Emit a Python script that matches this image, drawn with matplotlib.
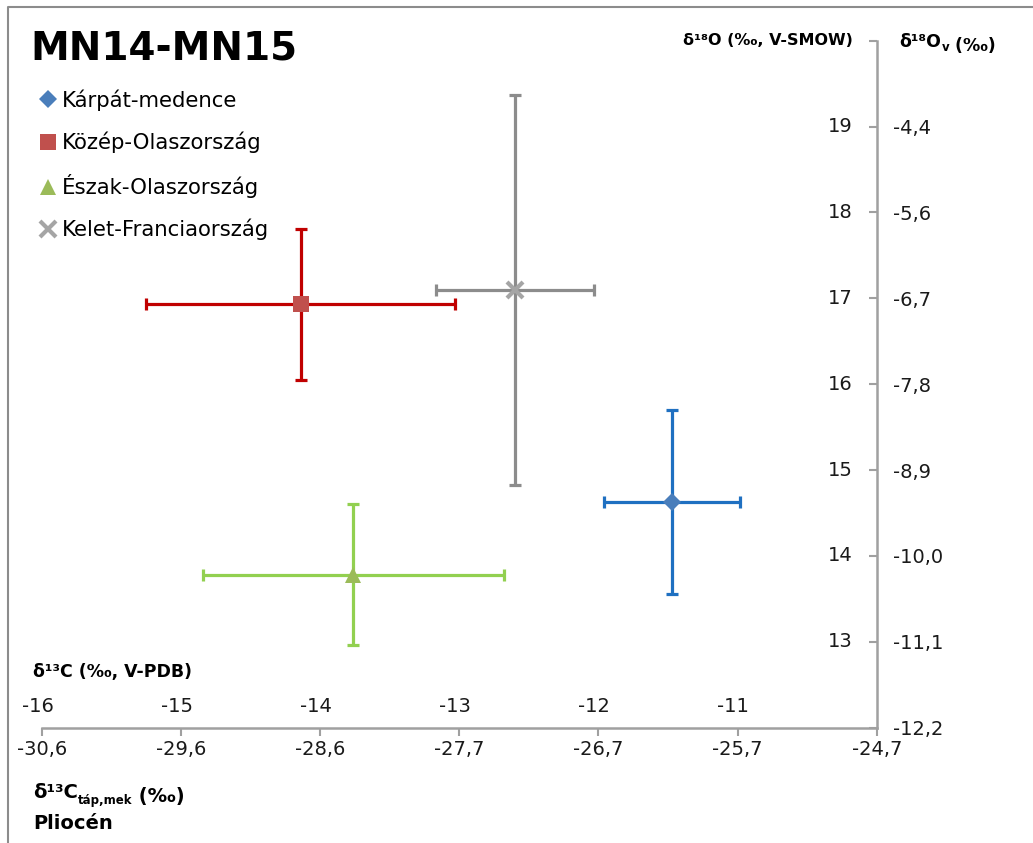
import matplotlib
matplotlib.use("Agg")
import matplotlib.pyplot as plt
from matplotlib.lines import Line2D
from matplotlib.transforms import blended_transform_factory, offset_copy

plt.rcParams["font.family"] = ["DejaVu Sans"]

# series: (label, x, xerr, y, yerr)
regions = ["Kárpát-medence", "Közép-Olaszország", "Észak-Olaszország", "Kelet-Franciaország"]
d13c = [-11.47, -14.14, -13.76, -12.60]
d13c_err = [0.49, 1.11, 1.08, 0.57]
d18o = [14.63, 16.93, 13.78, 17.10]
d18o_err = [1.07, 0.88, 0.82, 2.27]

x_ticks = [-16, -15, -14, -13, -12, -11, -10]
x_top_labels = ["-16", "-15", "-14", "-13", "-12", "-11"]
x_diet_labels = ["-30,6", "-29,6", "-28,6", "-27,7", "-26,7", "-25,7", "-24,7"]
y_ticks = [12, 13, 14, 15, 16, 17, 18, 19, 20]
y_left_labels = ["13", "14", "15", "16", "17", "18", "19"]
y_water_labels = ["-12,2", "-11,1", "-10,0", "-8,9", "-7,8", "-6,7", "-5,6", "-4,4"]

bar_colors = ["#1F70C1", "#C00000", "#92D050", "#8C8C8C"]
marker_colors = ["#4A7EBB", "#C0504D", "#9BBB59", "#A5A5A5"]
markers = ["D", "s", "^", "x"]
msizes = [9, 11, 12, 11]
axis_gray = "#A0A0A0"
txt = "#1a1a1a"
fs = 14

fig = plt.figure(figsize=(10.33, 8.43), dpi=100)
ax = fig.add_axes([0.0404, 0.1368, 0.8083, 0.8149])

for i in range(len(regions)):
    ax.errorbar(d13c[i], d18o[i], xerr=d13c_err[i], yerr=d18o_err[i],
                fmt="none", ecolor=bar_colors[i], elinewidth=2.3,
                capsize=4, capthick=2.3, zorder=2)
    ax.plot(d13c[i], d18o[i], marker=markers[i], ms=msizes[i],
            color=marker_colors[i], mew=3 if markers[i] == "x" else 0,
            ls="none", zorder=3)

ax.set_xlim(-16, -10)
ax.set_ylim(12, 20)

for s in ["top", "left"]:
    ax.spines[s].set_visible(False)
for s in ["bottom", "right"]:
    ax.spines[s].set_color(axis_gray)
    ax.spines[s].set_linewidth(1.8)

ax.set_xticks(x_ticks)
ax.set_xticklabels(x_diet_labels)
ax.tick_params(axis="x", direction="out", length=6, width=1.5, color=axis_gray,
               labelsize=fs, pad=3, labelcolor=txt)

ax.yaxis.tick_right()
ax.set_yticks(y_ticks)
ax.set_yticklabels(y_water_labels + [""])
ax.tick_params(axis="y", direction="in", length=6, width=1.5, color=axis_gray,
               labelsize=fs, pad=12, labelcolor=txt)

# primary d13C labels above the bottom axis
xt = offset_copy(blended_transform_factory(ax.transData, ax.transAxes),
                 fig=fig, x=-3, y=15, units="points")
for v, lab in zip(x_ticks, x_top_labels):
    ax.text(v, 0, lab, transform=xt, ha="center", va="center", fontsize=fs, color=txt)

# primary d18O labels left of the right axis
yt = offset_copy(blended_transform_factory(ax.transAxes, ax.transData),
                 fig=fig, x=-17, y=0, units="points")
for v, lab in zip(y_ticks[1:], y_left_labels):
    ax.text(1, v, lab, transform=yt, ha="right", va="center", fontsize=fs, color=txt)

# axis titles
ax.text(1, 20, "δ¹⁸O (‰, V-SMOW)", transform=yt, ha="right", va="center",
        fontsize=11.5, fontweight="bold")
t = fig.text(0.871, 0.950, "δ¹⁸O", fontsize=12.5, fontweight="bold", va="center")
t2 = ax.annotate("v", xy=(1, 0), xycoords=t, xytext=(0, -2), textcoords="offset points",
                 fontsize=8.5, fontweight="bold", va="bottom")
ax.annotate(" (‰)", xy=(1, 0), xycoords=(t2, t), fontsize=12.5, fontweight="bold",
            va="baseline")

fig.text(0.032, 0.203, "δ¹³C (‰, V-PDB)", fontsize=12.5, fontweight="bold", va="center")
c1 = fig.text(0.032, 0.060, "δ¹³C", fontsize=14, fontweight="bold", va="center")
c2 = ax.annotate("táp,mek", xy=(1, 0), xycoords=c1, xytext=(0, -4), textcoords="offset points",
                 fontsize=8.5, fontweight="bold", va="bottom")
ax.annotate(" (‰)", xy=(1, 0), xycoords=(c2, c1), fontsize=14, fontweight="bold",
            va="baseline")
fig.text(0.032, 0.0235, "Pliocén", fontsize=14, fontweight="bold", va="center")

fig.text(0.029, 0.943, "MN14-MN15", fontsize=28, fontweight="bold", va="center")

handles = [Line2D([], [], marker=markers[i], ms=msizes[i], color=marker_colors[i],
                  ls="none", mew=3 if markers[i] == "x" else 0) for i in range(len(regions))]
fig.legend(handles, regions, loc="upper left", bbox_to_anchor=(0.039, 0.894),
           frameon=False, fontsize=15.3, handlelength=0.7, handletextpad=0.3,
           labelspacing=0.98, borderaxespad=0, borderpad=0)

# outer frame of the chart area
fig.add_artist(Line2D([8 / 1033, 8 / 1033, 1], [0, 1 - 7 / 843, 1 - 7 / 843],
                      transform=fig.transFigure, color="#8C8C8C", lw=1.5))

fig.savefig("out.png", dpi=100)
